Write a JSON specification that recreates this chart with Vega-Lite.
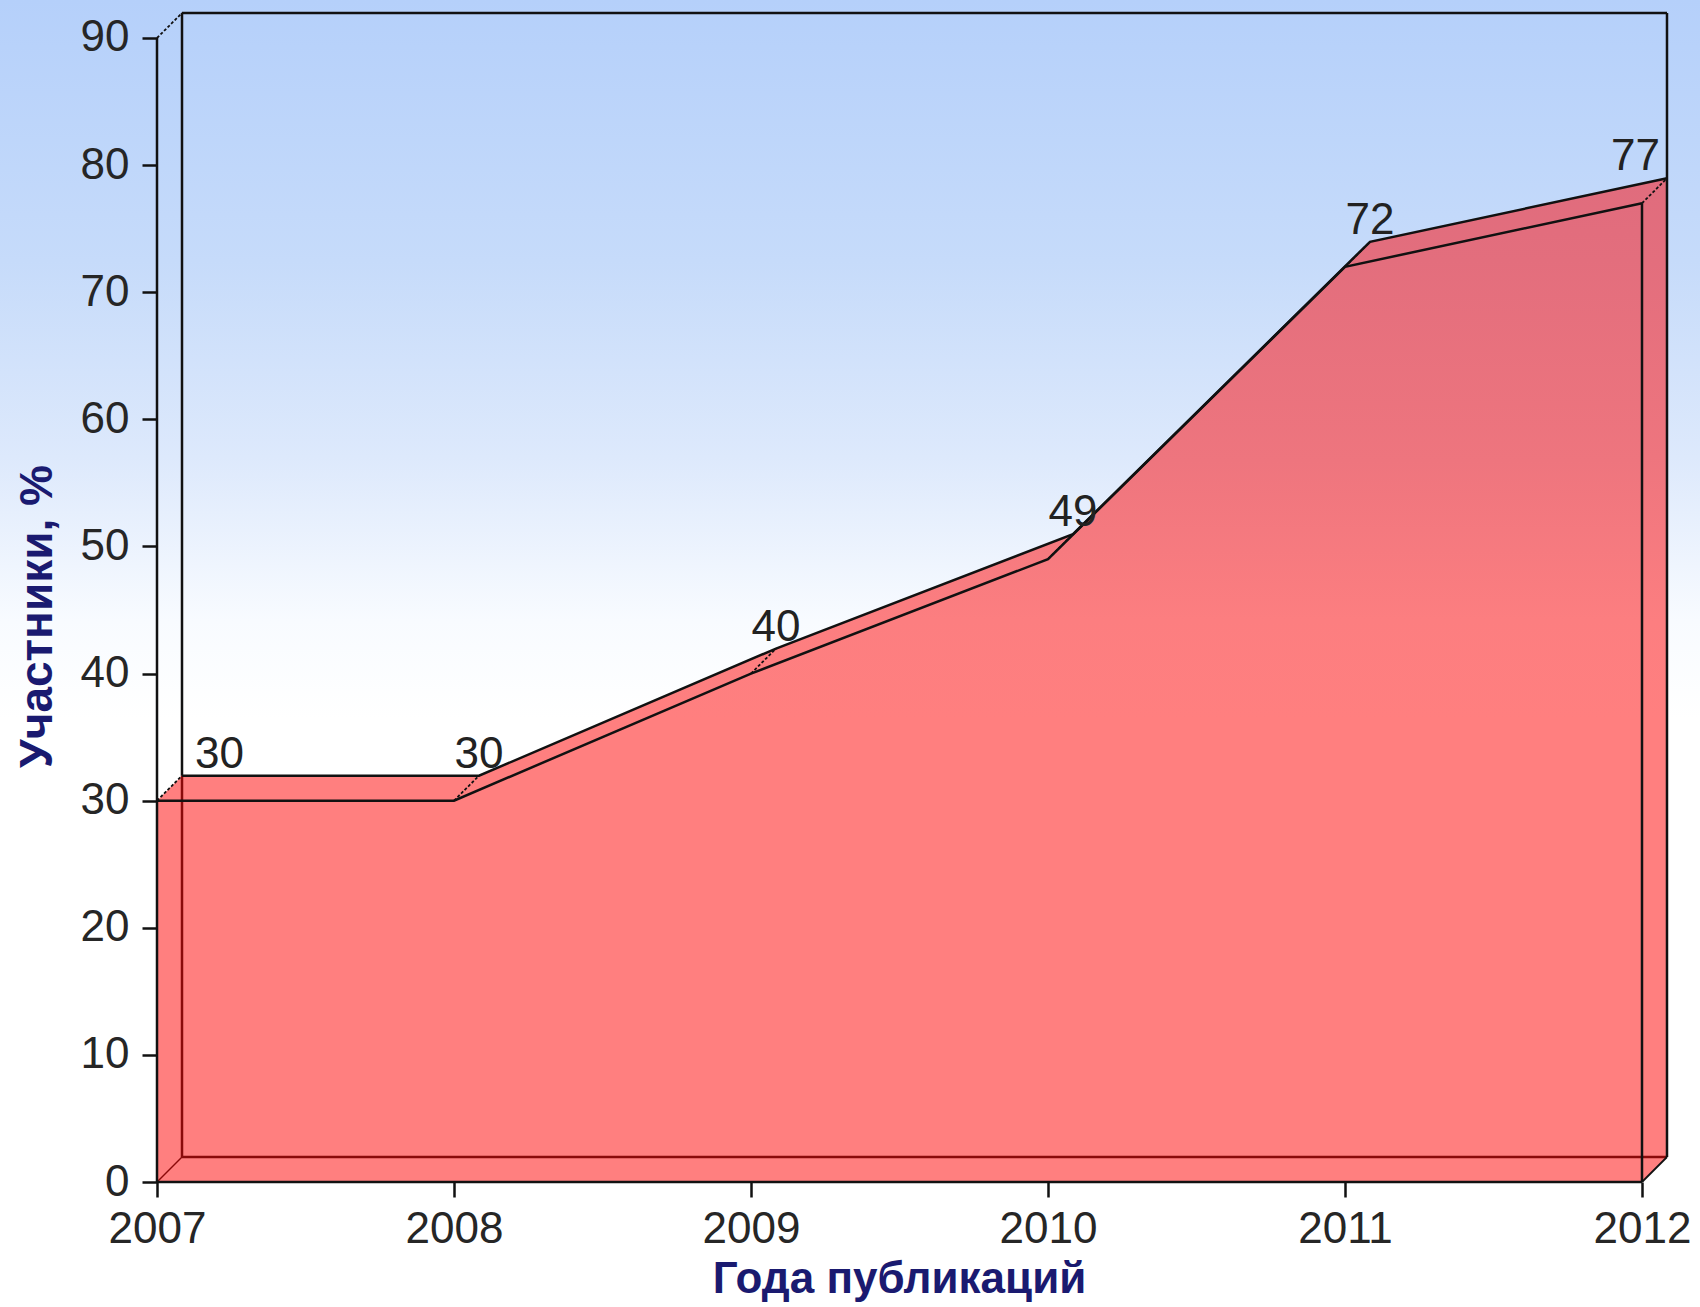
{
  "$schema": "https://vega.github.io/schema/vega-lite/v6.json",
  "width": 1700,
  "height": 1307,
  "padding": 0,
  "autosize": {"type": "none"},
  "background": "#ffffff",
  "config": {
    "view": {
      "stroke": null,
      "fill": {
        "gradient": "linear", "x1": 0, "y1": 0, "x2": 0, "y2": 1,
        "stops": [
          {"offset": 0, "color": "#b5d0fa"},
          {"offset": 0.2, "color": "#c6dbfa"},
          {"offset": 0.35, "color": "#dde9fc"},
          {"offset": 0.475, "color": "#f8fbff"},
          {"offset": 0.55, "color": "#ffffff"},
          {"offset": 1, "color": "#ffffff"}
        ]
      }
    },
    "font": "Liberation Sans",
    "axis": {
      "labelFont": "Liberation Sans",
      "labelFontSize": 44,
      "labelColor": "#262626",
      "tickColor": "#111111",
      "tickWidth": 2.5,
      "tickSize": 15,
      "domain": false,
      "grid": false,
      "titleFont": "Liberation Sans",
      "titleFontSize": 46,
      "titleFontWeight": "bold",
      "titleColor": "#1a1a70"
    }
  },
  "data": {
    "values": [
      {"year": 2007, "value": 30},
      {"year": 2008, "value": 30},
      {"year": 2009, "value": 40},
      {"year": 2010, "value": 49},
      {"year": 2011, "value": 72},
      {"year": 2012, "value": 77}
    ]
  },
  "layer": [
    {
      "mark": {
        "type": "area", "xOffset": 25, "yOffset": -25, "y2Offset": -25, "opacity": 1,
        "fill": {
          "gradient": "linear", "x1": 0, "y1": 0, "x2": 0, "y2": 1,
          "stops": [
            {"offset": 0, "color": "#e06c7d"},
            {"offset": 0.085, "color": "#e36e7d"},
            {"offset": 0.285, "color": "#ee757e"},
            {"offset": 0.4525, "color": "#fc7e80"},
            {"offset": 0.553, "color": "#ff7f7f"},
            {"offset": 1, "color": "#ff7f7f"}
          ]
        }
      },
      "encoding": {
        "x": {
          "field": "year", "type": "quantitative",
          "scale": {"domain": [2006.47138, 2012.19529], "nice": false, "zero": false},
          "axis": {
            "orient": "bottom", "offset": -125,
            "values": [2007, 2008, 2009, 2010, 2011, 2012], "format": "d",
            "labelPadding": 10, "labelFlush": false,
            "title": "Года публикаций", "titleX": 899, "titleY": 75,
            "titleFontSize": 44,
            "titleBaseline": "top", "titleAlign": "center"
          }
        },
        "y": {
          "field": "value", "type": "quantitative", "stack": null,
          "scale": {"domain": [-9.8339, 92.9895], "nice": false, "zero": false},
          "axis": {
            "orient": "left", "offset": -157,
            "values": [0, 10, 20, 30, 40, 50, 60, 70, 80, 90],
            "labelPadding": 13,
            "title": "Участники, %", "titleX": -120, "titleY": 616,
            "titleAngle": 270, "titleBaseline": "middle", "titleAlign": "center"
          }
        },
        "y2": {"datum": 0}
      }
    },
    {
      "data": {"values": [{}]},
      "mark": {"type": "rule", "color": "#111111", "strokeWidth": 2.5, "xOffset": 25, "x2Offset": 25, "yOffset": -25, "y2Offset": -25},
      "encoding": {
        "x": {"datum": 2007, "type": "quantitative", "scale": {"domain": [2006.47138, 2012.19529], "nice": false, "zero": false}},
        "x2": {"datum": 2012},
        "y": {"datum": 90, "type": "quantitative", "scale": {"domain": [-9.8339, 92.9895], "nice": false, "zero": false}}
      }
    },
    {
      "data": {"values": [{}]},
      "mark": {"type": "rule", "color": "#111111", "strokeWidth": 2.5, "xOffset": 25, "x2Offset": 25, "yOffset": -25, "y2Offset": -25},
      "encoding": {
        "x": {"datum": 2007, "type": "quantitative", "scale": {"domain": [2006.47138, 2012.19529], "nice": false, "zero": false}},
        "y": {"datum": 30, "type": "quantitative", "scale": {"domain": [-9.8339, 92.9895], "nice": false, "zero": false}},
        "y2": {"datum": 90}
      }
    },
    {
      "transform": [{"filter": "datum.year == 2007"}],
      "mark": {"type": "point", "shape": "M0,0L1,-1L1,0Z", "size": 2500, "filled": true, "fill": "#ff7f7f", "opacity": 1, "strokeWidth": 0},
      "encoding": {
        "x": {"field": "year", "type": "quantitative", "scale": {"domain": [2006.47138, 2012.19529], "nice": false, "zero": false}},
        "y": {"field": "value", "type": "quantitative", "scale": {"domain": [-9.8339, 92.9895], "nice": false, "zero": false}}
      }
    },
    {
      "data": {"values": [{}]},
      "mark": {"type": "point", "shape": "M0,0L1,-1L0,-1Z", "size": 2500, "filled": true, "fill": "#ff7f7f", "opacity": 1, "strokeWidth": 0},
      "encoding": {
        "x": {"datum": 2012, "type": "quantitative", "scale": {"domain": [2006.47138, 2012.19529], "nice": false, "zero": false}},
        "y": {"datum": 0, "type": "quantitative", "scale": {"domain": [-9.8339, 92.9895], "nice": false, "zero": false}}
      }
    },
    {
      "mark": {
        "type": "area", "opacity": 1,
        "fill": {
          "gradient": "linear", "x1": 0, "y1": 0, "x2": 0, "y2": 1,
          "stops": [
            {"offset": 0, "color": "#e16c7d"},
            {"offset": 0.058, "color": "#e36e7d"},
            {"offset": 0.2625, "color": "#ee757e"},
            {"offset": 0.426, "color": "#fc7e80"},
            {"offset": 0.528, "color": "#ff7f7f"},
            {"offset": 1, "color": "#ff7f7f"}
          ]
        }
      },
      "encoding": {
        "x": {"field": "year", "type": "quantitative", "scale": {"domain": [2006.47138, 2012.19529], "nice": false, "zero": false}},
        "y": {"field": "value", "type": "quantitative", "stack": null, "scale": {"domain": [-9.8339, 92.9895], "nice": false, "zero": false}},
        "y2": {"datum": 0}
      }
    },
    {
      "data": {"values": [{}]},
      "mark": {"type": "rule", "color": "#8a0a0a", "strokeWidth": 2.5, "xOffset": 25, "x2Offset": 25, "yOffset": -25, "y2Offset": -25},
      "encoding": {
        "x": {"datum": 2007, "type": "quantitative", "scale": {"domain": [2006.47138, 2012.19529], "nice": false, "zero": false}},
        "y": {"datum": 0, "type": "quantitative", "scale": {"domain": [-9.8339, 92.9895], "nice": false, "zero": false}},
        "y2": {"datum": 30}
      }
    },
    {
      "data": {"values": [{}]},
      "mark": {"type": "rule", "color": "#8a0a0a", "strokeWidth": 2.5, "xOffset": 25, "x2Offset": 25, "yOffset": -25, "y2Offset": -25},
      "encoding": {
        "x": {"datum": 2007, "type": "quantitative", "scale": {"domain": [2006.47138, 2012.19529], "nice": false, "zero": false}},
        "x2": {"datum": 2012},
        "y": {"datum": 0, "type": "quantitative", "scale": {"domain": [-9.8339, 92.9895], "nice": false, "zero": false}}
      }
    },
    {
      "data": {"values": [{}]},
      "mark": {"type": "rule", "color": "#8a0a0a", "strokeWidth": 1.5, "x2Offset": 25, "y2Offset": -25},
      "encoding": {
        "x": {"datum": 2007, "type": "quantitative", "scale": {"domain": [2006.47138, 2012.19529], "nice": false, "zero": false}},
        "x2": {"datum": 2007},
        "y": {"datum": 0, "type": "quantitative", "scale": {"domain": [-9.8339, 92.9895], "nice": false, "zero": false}},
        "y2": {"datum": 0}
      }
    },
    {
      "mark": {"type": "line", "color": "#111111", "strokeWidth": 2.5},
      "encoding": {
        "x": {"field": "year", "type": "quantitative", "scale": {"domain": [2006.47138, 2012.19529], "nice": false, "zero": false}},
        "y": {"field": "value", "type": "quantitative", "scale": {"domain": [-9.8339, 92.9895], "nice": false, "zero": false}}
      }
    },
    {
      "mark": {"type": "line", "color": "#111111", "strokeWidth": 2.5, "xOffset": 25, "yOffset": -25},
      "encoding": {
        "x": {"field": "year", "type": "quantitative", "scale": {"domain": [2006.47138, 2012.19529], "nice": false, "zero": false}},
        "y": {"field": "value", "type": "quantitative", "scale": {"domain": [-9.8339, 92.9895], "nice": false, "zero": false}}
      }
    },
    {
      "mark": {"type": "rule", "color": "#111111", "strokeWidth": 1.8, "strokeDash": [3, 2], "x2Offset": 25, "y2Offset": -25},
      "encoding": {
        "x": {"field": "year", "type": "quantitative", "scale": {"domain": [2006.47138, 2012.19529], "nice": false, "zero": false}},
        "x2": {"field": "year"},
        "y": {"field": "value", "type": "quantitative", "scale": {"domain": [-9.8339, 92.9895], "nice": false, "zero": false}},
        "y2": {"field": "value"}
      }
    },
    {
      "transform": [{"filter": "datum.year == 2012"}],
      "mark": {"type": "rule", "color": "#111111", "strokeWidth": 2.5},
      "encoding": {
        "x": {"field": "year", "type": "quantitative", "scale": {"domain": [2006.47138, 2012.19529], "nice": false, "zero": false}},
        "y": {"field": "value", "type": "quantitative", "scale": {"domain": [-9.8339, 92.9895], "nice": false, "zero": false}},
        "y2": {"datum": 0}
      }
    },
    {
      "data": {"values": [{}]},
      "mark": {"type": "rule", "color": "#111111", "strokeWidth": 2.5, "xOffset": 25, "x2Offset": 25, "yOffset": -25, "y2Offset": -25},
      "encoding": {
        "x": {"datum": 2012, "type": "quantitative", "scale": {"domain": [2006.47138, 2012.19529], "nice": false, "zero": false}},
        "y": {"datum": 0, "type": "quantitative", "scale": {"domain": [-9.8339, 92.9895], "nice": false, "zero": false}},
        "y2": {"datum": 90}
      }
    },
    {
      "data": {"values": [{}]},
      "mark": {"type": "rule", "color": "#111111", "strokeWidth": 1.8, "strokeDash": [3, 2], "x2Offset": 25, "y2Offset": -25},
      "encoding": {
        "x": {"datum": 2007, "type": "quantitative", "scale": {"domain": [2006.47138, 2012.19529], "nice": false, "zero": false}},
        "x2": {"datum": 2007},
        "y": {"datum": 90, "type": "quantitative", "scale": {"domain": [-9.8339, 92.9895], "nice": false, "zero": false}},
        "y2": {"datum": 90}
      }
    },
    {
      "data": {"values": [{}]},
      "mark": {"type": "rule", "color": "#111111", "strokeWidth": 1.8, "x2Offset": 25, "y2Offset": -25},
      "encoding": {
        "x": {"datum": 2012, "type": "quantitative", "scale": {"domain": [2006.47138, 2012.19529], "nice": false, "zero": false}},
        "x2": {"datum": 2012},
        "y": {"datum": 0, "type": "quantitative", "scale": {"domain": [-9.8339, 92.9895], "nice": false, "zero": false}},
        "y2": {"datum": 0}
      }
    },
    {
      "data": {"values": [{}]},
      "mark": {"type": "rule", "color": "#111111", "strokeWidth": 2.5},
      "encoding": {
        "x": {"datum": 2007, "type": "quantitative", "scale": {"domain": [2006.47138, 2012.19529], "nice": false, "zero": false}},
        "y": {"datum": 0, "type": "quantitative", "scale": {"domain": [-9.8339, 92.9895], "nice": false, "zero": false}},
        "y2": {"datum": 90}
      }
    },
    {
      "data": {"values": [{}]},
      "mark": {"type": "rule", "color": "#111111", "strokeWidth": 2.5},
      "encoding": {
        "x": {"datum": 2007, "type": "quantitative", "scale": {"domain": [2006.47138, 2012.19529], "nice": false, "zero": false}},
        "x2": {"datum": 2012},
        "y": {"datum": 0, "type": "quantitative", "scale": {"domain": [-9.8339, 92.9895], "nice": false, "zero": false}}
      }
    },
    {
      "transform": [{"filter": "datum.year > 2007 && datum.year < 2012"}],
      "mark": {"type": "text", "font": "Liberation Sans", "fontSize": 44, "color": "#222222", "align": "center", "baseline": "alphabetic", "dx": 25, "dy": -33},
      "encoding": {
        "x": {"field": "year", "type": "quantitative", "scale": {"domain": [2006.47138, 2012.19529], "nice": false, "zero": false}},
        "y": {"field": "value", "type": "quantitative", "scale": {"domain": [-9.8339, 92.9895], "nice": false, "zero": false}},
        "text": {"field": "value", "type": "quantitative"}
      }
    },
    {
      "transform": [{"filter": "datum.year == 2007"}],
      "mark": {"type": "text", "font": "Liberation Sans", "fontSize": 44, "color": "#222222", "align": "left", "baseline": "alphabetic", "dx": 38, "dy": -33},
      "encoding": {
        "x": {"field": "year", "type": "quantitative", "scale": {"domain": [2006.47138, 2012.19529], "nice": false, "zero": false}},
        "y": {"field": "value", "type": "quantitative", "scale": {"domain": [-9.8339, 92.9895], "nice": false, "zero": false}},
        "text": {"field": "value", "type": "quantitative"}
      }
    },
    {
      "transform": [{"filter": "datum.year == 2012"}],
      "mark": {"type": "text", "font": "Liberation Sans", "fontSize": 44, "color": "#222222", "align": "right", "baseline": "alphabetic", "dx": 18, "dy": -33},
      "encoding": {
        "x": {"field": "year", "type": "quantitative", "scale": {"domain": [2006.47138, 2012.19529], "nice": false, "zero": false}},
        "y": {"field": "value", "type": "quantitative", "scale": {"domain": [-9.8339, 92.9895], "nice": false, "zero": false}},
        "text": {"field": "value", "type": "quantitative"}
      }
    }
  ]
}
